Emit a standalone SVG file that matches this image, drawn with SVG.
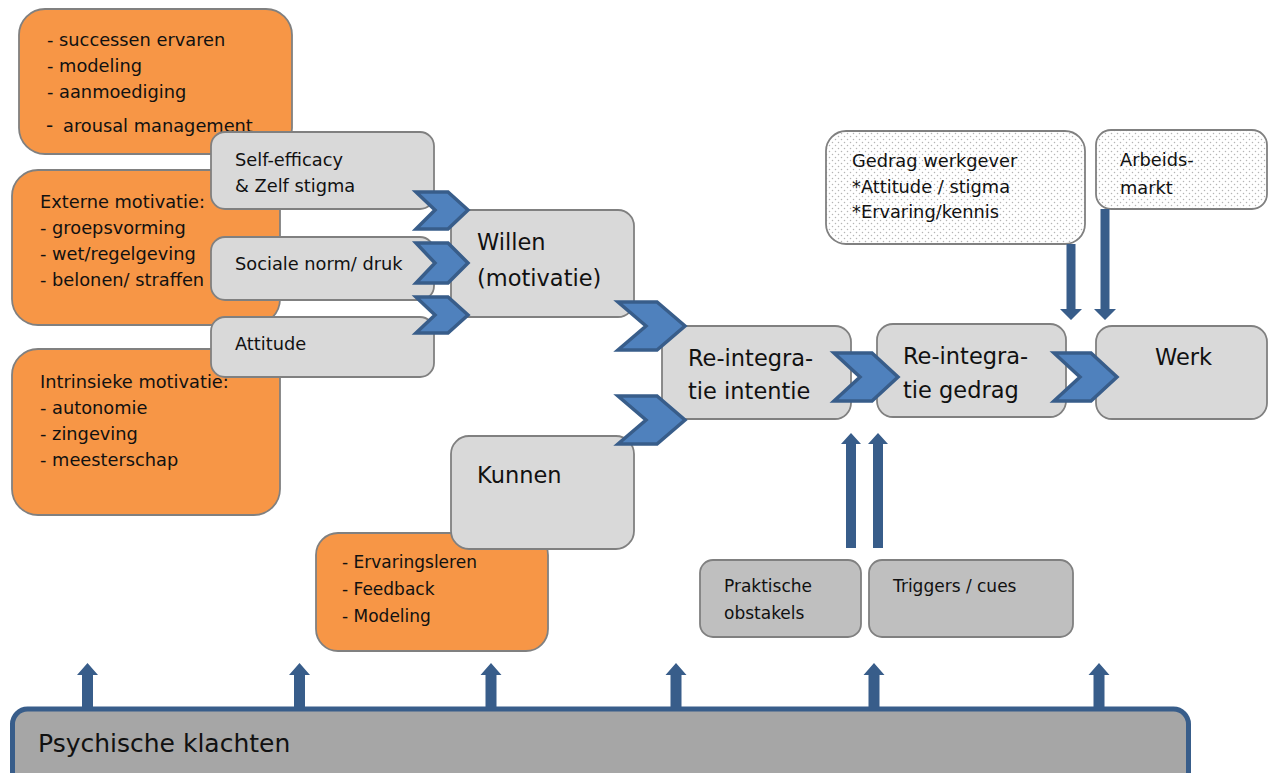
<svg xmlns="http://www.w3.org/2000/svg" width="1268" height="773" viewBox="0 0 1268 773">
<defs>
<style>
text{font-family:"DejaVu Sans","Liberation Sans",sans-serif;fill:#111;font-size:17.8px}
.sm{font-size:17px}
.big{font-size:22.5px}
.huge{font-size:25px}
.org{fill:#F79646;stroke:#808080;stroke-width:1.8}
.gry{fill:#D9D9D9;stroke:#808080;stroke-width:1.8}
.dgr{fill:#BFBFBF;stroke:#808080;stroke-width:1.8}
.dot{fill:url(#dots);stroke:#808080;stroke-width:1.8}
.chev{fill:#4F81BD;stroke:#385D8A;stroke-width:3.5;stroke-linejoin:miter}
.arr{fill:#385D8A}
</style>
<pattern id="dots" width="6" height="6" patternUnits="userSpaceOnUse">
<rect width="6" height="6" fill="#fff"/>
<circle cx="1.5" cy="1.5" r="0.75" fill="#b5b5b5"/>
<circle cx="4.5" cy="4.5" r="0.75" fill="#b5b5b5"/>
</pattern>
</defs>
<rect width="1268" height="773" fill="#fff"/>

<g id="node-self-efficacy-sources">
<rect class="org" x="19" y="9" width="273" height="145" rx="26"/>
<text x="47" y="46">- successen ervaren</text>
<text x="47" y="72">- modeling</text>
<text x="47" y="98">- aanmoediging</text>
<text x="46" y="132"><tspan font-size="20">-</tspan><tspan x="63">arousal management</tspan></text>
</g>
<g id="node-externe-motivatie">
<rect class="org" x="12" y="170" width="268" height="155" rx="26"/>
<text x="40" y="208">Externe motivatie:</text>
<text x="40" y="234">- groepsvorming</text>
<text x="40" y="260">- wet/regelgeving</text>
<text x="40" y="286">- belonen/ straffen</text>
</g>
<g id="node-intrinsieke-motivatie">
<rect class="org" x="12" y="349" width="268" height="166" rx="26"/>
<text x="40" y="388">Intrinsieke motivatie:</text>
<text x="40" y="414">- autonomie</text>
<text x="40" y="440">- zingeving</text>
<text x="40" y="466">- meesterschap</text>
</g>
<g id="node-self-efficacy">
<rect class="gry" x="211" y="132" width="223" height="77" rx="14"/>
<text x="235" y="166">Self-efficacy</text>
<text x="235" y="192">&amp; Zelf stigma</text>
</g>
<g id="node-sociale-norm">
<rect class="gry" x="211" y="237" width="223" height="63" rx="14"/>
<text x="235" y="270">Sociale norm/ druk</text>
</g>
<g id="node-attitude">
<rect class="gry" x="211" y="317" width="223" height="60" rx="14"/>
<text x="235" y="350">Attitude</text>
</g>
<g id="node-willen">
<rect class="gry" x="451" y="210" width="183" height="107" rx="16"/>
<text class="big" x="477" y="250">Willen</text>
<text class="big" x="477" y="286">(motivatie)</text>
</g>
<g id="node-kunnen-sources">
<rect class="org" x="316" y="533" width="232" height="118" rx="22"/>
<text class="sm" x="342" y="568">- Ervaringsleren</text>
<text class="sm" x="342" y="595">- Feedback</text>
<text class="sm" x="342" y="622">- Modeling</text>
</g>
<g id="node-kunnen">
<rect class="gry" x="451" y="436" width="183" height="113" rx="18"/>
<text class="big" x="477" y="483">Kunnen</text>
</g>
<g id="node-intentie">
<rect class="gry" x="662" y="326" width="189" height="93" rx="16"/>
<text class="big" x="688" y="366">Re-integra-</text>
<text class="big" x="688" y="399">tie intentie</text>
</g>
<g id="node-gedrag">
<rect class="gry" x="877" y="324" width="189" height="93" rx="16"/>
<text class="big" x="903" y="364">Re-integra-</text>
<text class="big" x="903" y="398">tie gedrag</text>
</g>
<g id="node-werk">
<rect class="gry" x="1096" y="326" width="171" height="93" rx="16"/>
<text class="big" x="1155" y="365">Werk</text>
</g>
<g id="node-gedrag-werkgever">
<rect class="dot" x="826" y="131" width="259" height="113" rx="20"/>
<text x="852" y="167">Gedrag werkgever</text>
<text x="852" y="193">*Attitude / stigma</text>
<text x="852" y="218">*Ervaring/kennis</text>
</g>
<g id="node-arbeidsmarkt">
<rect class="dot" x="1096" y="130" width="171" height="79" rx="15"/>
<text x="1120" y="166">Arbeids-</text>
<text x="1120" y="194">markt</text>
</g>
<g id="node-praktische-obstakels">
<rect class="dgr" x="700" y="560" width="161" height="77" rx="13"/>
<text class="sm" x="724" y="592">Praktische</text>
<text class="sm" x="724" y="619">obstakels</text>
</g>
<g id="node-triggers">
<rect class="dgr" x="869" y="560" width="204" height="77" rx="13"/>
<text class="sm" x="893" y="592">Triggers / cues</text>
</g>
<g id="node-psychische-klachten">
<rect x="12.5" y="709" width="1176" height="92" rx="15" fill="#A6A6A6" stroke="#385D8A" stroke-width="5"/>
<text class="huge" x="38" y="752">Psychische klachten</text>
</g>

<g id="connectors">
<polygon class="chev" points="416,192 448,192 468,210 448,229 416,229 435,210"/>
<polygon class="chev" points="416,243 448,243 468,263 448,283 416,283 435,263"/>
<polygon class="chev" points="416,297 448,297 468,315 448,333 416,333 435,315"/>
<polygon class="chev" points="618,302 657,302 685,326 657,350 618,350 646,326"/>
<polygon class="chev" points="618,396 657,396 685,420 657,444 618,444 646,420"/>
<polygon class="chev" points="834,353 872,353 898,377 872,401 834,401 860,377"/>
<polygon class="chev" points="1054,353 1091,353 1117,377 1091,401 1054,401 1080,377"/>
<path class="arr" d="M1066.5,244 V309 H1060 L1071,320 L1082,309 H1075.5 V244 Z"/>
<path class="arr" d="M1100.5,209 V309 H1094 L1105,320 L1116,309 H1109.5 V209 Z"/>
<path class="arr" d="M846,548 V444 H841 L851,433 L861,444 H856 V548 Z"/>
<path class="arr" d="M873,548 V444 H868 L878,433 L888,444 H883 V548 Z"/>
<path class="arr" d="M82,708 V675 H77 L87.5,663 L98,675 H93 V708 Z"/>
<path class="arr" d="M294,708 V675 H289 L299.5,663 L310,675 H305 V708 Z"/>
<path class="arr" d="M485.5,708 V675 H480.5 L491,663 L501.5,675 H496.5 V708 Z"/>
<path class="arr" d="M670.5,708 V675 H665.5 L676,663 L686.5,675 H681.5 V708 Z"/>
<path class="arr" d="M868.5,708 V675 H863.5 L874,663 L884.5,675 H879.5 V708 Z"/>
<path class="arr" d="M1093.5,708 V675 H1088.5 L1099,663 L1109.5,675 H1104.5 V708 Z"/>
</g>
</svg>
